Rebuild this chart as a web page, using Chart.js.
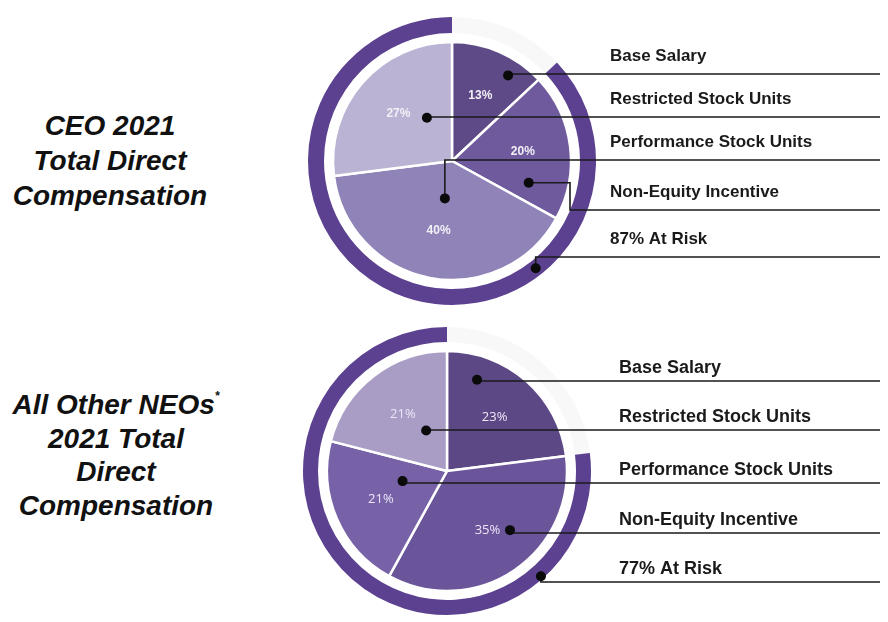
<!DOCTYPE html>
<html>
<head>
<meta charset="utf-8">
<script src="https://cdn.jsdelivr.net/npm/chart.js@4.4.0/dist/chart.umd.min.js"></script>
<style>
  body { margin: 0; background: #fff; }
  #page { position: relative; width: 888px; height: 622px; overflow: hidden; }
  .chart { position: absolute; left: 0; width: 888px; height: 311px; }
  .title {
    position: absolute; left: 0; text-align: center;
    font-family: "Liberation Sans", Arial, sans-serif;
    font-weight: bold; font-style: italic; font-size: 28px; color: #111;
  }
  .title sup { font-size: 12px; vertical-align: 14px; line-height: 0; }
</style>
</head>
<body>
<div id="page">
  <div class="title" style="top:108px; width:220px; line-height:35px;">CEO 2021<br>Total Direct<br>Compensation</div>
  <div class="title" style="top:388px; width:232px; line-height:33.5px;">All Other NEOs<sup>*</sup><br>2021 Total<br>Direct<br>Compensation</div>
  <div class="chart" style="top:0"><canvas id="ceo" width="888" height="311"></canvas></div>
  <div class="chart" style="top:311px"><canvas id="neo" width="888" height="311"></canvas></div>
</div>
<script>
// slices in clockwise order from 12 o'clock
var sliceNames = ['Base Salary', 'Non-Equity Incentive', 'Performance Stock Units', 'Restricted Stock Units'];
var ceoValues = [13, 20, 40, 27];
var neoValues = [23, 35, 21, 21];
var ceoAtRisk = 87;
var neoAtRisk = 77;
var rowNames = ['Base Salary', 'Restricted Stock Units', 'Performance Stock Units', 'Non-Equity Incentive'];

var ceoColors = ['#5e4a86', '#6e5a9c', '#9083b8', '#bbb3d3'];
var neoColors = ['#5c4884', '#6a559b', '#7762a8', '#a99dc6'];
var ringColor = '#5c4190';
var ringRest = '#f8f8f9';

var calloutPlugin = {
    id: 'callouts',
    afterDatasetsDraw: function (chart, args, opts) {
        var ctx = chart.ctx;
        var pieMeta = chart.getDatasetMeta(2);
        var ringMeta = chart.getDatasetMeta(0);
        var values = chart.data.datasets[2].data;

        ctx.save();
        ctx.font = opts.pctFont;
        ctx.fillStyle = opts.pctColor;
        ctx.textAlign = 'center';
        ctx.textBaseline = 'middle';
        pieMeta.data.forEach(function (arc, i) {
            var mid = (arc.startAngle + arc.endAngle) / 2;
            var r = arc.outerRadius * 0.6;
            ctx.fillText(values[i] + '%', arc.x + Math.cos(mid) * r, arc.y + Math.sin(mid) * r);
        });

        opts.rows.forEach(function (row) {
            var meta = row.ring ? ringMeta : pieMeta;
            var arc = meta.data[row.slice];
            var a = arc.startAngle + row.t * (arc.endAngle - arc.startAngle);
            var rr = arc.innerRadius + row.r * (arc.outerRadius - arc.innerRadius);
            var dx = arc.x + Math.cos(a) * rr;
            var dy = arc.y + Math.sin(a) * rr;
            var ex = row.elbowX != null ? row.elbowX : dx;

            ctx.strokeStyle = '#1a1a1a';
            ctx.lineWidth = 1.6;
            ctx.beginPath();
            ctx.moveTo(dx, dy);
            ctx.lineTo(ex, dy);
            ctx.lineTo(ex, row.lineY);
            ctx.lineTo(opts.lineEnd, row.lineY);
            ctx.stroke();

            ctx.fillStyle = '#0a0a0a';
            ctx.beginPath();
            ctx.arc(dx, dy, 5, 0, Math.PI * 2);
            ctx.fill();

            ctx.fillStyle = '#1a1a1a';
            ctx.font = opts.rowFont;
            ctx.textAlign = 'left';
            ctx.textBaseline = 'middle';
            ctx.fillText(row.text, opts.textX, row.lineY - opts.textGap);
        });
        ctx.restore();
    }
};

function makeChart(id, values, colors, atRisk, padding, ringW, gapW, pieW, plug) {
    return new Chart(document.getElementById(id), {
        type: 'pie',
        data: {
            labels: sliceNames,
            datasets: [
                {
                    data: [100 - atRisk, atRisk],
                    backgroundColor: [ringRest, ringColor],
                    borderWidth: 0,
                    weight: ringW
                },
                {
                    data: [100],
                    backgroundColor: ['rgba(0,0,0,0)'],
                    borderWidth: 0,
                    weight: gapW
                },
                {
                    data: values,
                    backgroundColor: colors,
                    borderColor: '#ffffff',
                    borderWidth: 2.5,
                    weight: pieW
                }
            ]
        },
        options: {
            responsive: false,
            animation: false,
            radius: 144,
            cutout: 0,
            layout: { padding: padding },
            plugins: {
                legend: { display: false },
                tooltip: { enabled: false },
                callouts: plug
            }
        },
        plugins: [calloutPlugin]
    });
}

function idx(name) { return sliceNames.indexOf(name); }

makeChart('ceo', ceoValues, ceoColors, ceoAtRisk,
    { left: 300, right: 284, top: 20, bottom: 9 }, 16, 9, 119, {
        pctFont: 'bold 12px "Liberation Sans", Arial, sans-serif',
        pctColor: '#f2f0f7',
        rowFont: 'bold 17px "Liberation Sans", Arial, sans-serif',
        textX: 610, textGap: 18, lineEnd: 880,
        rows: [
            { text: rowNames[0], slice: idx(rowNames[0]), t: 0.71, r: 0.86, lineY: 74 },
            { text: rowNames[1], slice: idx(rowNames[1]), t: 0.69, r: 0.42, lineY: 117 },
            { text: rowNames[2], slice: idx(rowNames[2]), t: 0.5, r: 0.32, lineY: 160 },
            { text: rowNames[3], slice: idx(rowNames[3]), t: 0.82, r: 0.67, lineY: 210, elbowX: 570 },
            { text: ceoAtRisk + '% At Risk', ring: true, slice: 1, t: 0.304, r: 0.5, lineY: 257 }
        ]
    });

makeChart('neo', neoValues, neoColors, neoAtRisk,
    { left: 300, right: 294, top: 20, bottom: 11 }, 15, 9, 120, {
        pctFont: '13px "Open Sans", "Liberation Sans", sans-serif',
        pctColor: '#ece6f7',
        rowFont: 'bold 18px "Liberation Sans", Arial, sans-serif',
        textX: 619, textGap: 13, lineEnd: 880,
        rows: [
            { text: rowNames[0], slice: idx(rowNames[0]), t: 0.22, r: 0.8, lineY: 70 },
            { text: rowNames[1], slice: idx(rowNames[1]), t: 0.64, r: 0.38, lineY: 119 },
            { text: rowNames[2], slice: idx(rowNames[2]), t: 0.64, r: 0.38, lineY: 172 },
            { text: rowNames[3], slice: idx(rowNames[3]), t: 0.4, r: 0.72, lineY: 222 },
            { text: neoAtRisk + '% At Risk', ring: true, slice: 1, t: 0.2, r: 0.8, lineY: 271 }
        ]
    });
</script>
</body>
</html>
